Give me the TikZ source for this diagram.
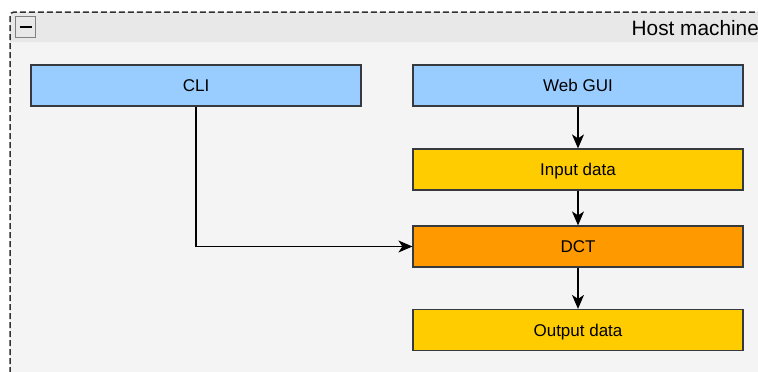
\documentclass[tikz,border=0pt]{standalone}
\usepackage{fontspec}
\setmainfont{Liberation Sans}
\usetikzlibrary{arrows.meta}

\definecolor{headgray}{HTML}{E8E8E8}
\definecolor{bodygray}{HTML}{F4F4F4}
\definecolor{edgegray}{HTML}{36393D}
\definecolor{uiblue}{HTML}{99CCFF}
\definecolor{datayellow}{HTML}{FFCC00}
\definecolor{coreorange}{HTML}{FF9900}

\begin{document}
\begin{tikzpicture}[x=1pt,y=-1pt]

    \tikzset{
      block/.style={
        draw=edgegray,
        line width=1.2pt,
        minimum width=330pt,
        minimum height=41pt,
        inner sep=0pt,
        text height=12pt,
        text depth=0pt,
        font=\fontsize{17}{20}\selectfont,
      },
      flow/.style={
        draw=black,
        line width=1.2pt,
        -{Stealth[length=14pt,width=12pt,inset=4pt]},
      },
    }
    \useasboundingbox (0,0) rectangle (758,372);
    \clip (0,0) rectangle (758,372);

	% container
	\fill[bodygray] (10,42) rectangle (790,400);
	\fill[headgray] (10,42) [rounded corners=4pt] -- (10,12) -- (790,12) [sharp corners] -- (790,42) -- cycle;
	\draw[color=black!80, line width=1.5pt, dash pattern=on 6pt off 3pt, rounded corners=4pt] (10,400) -- (10,12) -- (790,12);
	\node[draw=gray, fill=headgray, line width=1pt, minimum width=20pt, minimum height=21pt, inner sep=0pt] (fold) at (25,27) {};
	\draw[color=black, line width=2pt] ([xshift=5pt]fold.west) -- ([xshift=-4pt]fold.east);
	\node[anchor=base west, inner sep=0pt, font=\fontsize{20.8}{24}\selectfont] (title) at (631.5,35) {Host machine};

	% blocks
	\node[block, fill=uiblue] (cli) at (196,85.5) {CLI};
	\node[block, fill=uiblue] (webgui) at (578,85.5) {Web GUI};
	\node[block, fill=datayellow] (input) at (578,169.5) {Input data};
	\node[block, fill=coreorange] (dct) at (578,246.5) {DCT};
	\node[block, fill=datayellow] (output) at (578,330) {Output data};

	% connectors
	\draw[flow] (webgui) -- (input);
	\draw[flow] (input) -- (dct);
	\draw[flow] (dct) -- (output);
	\draw[flow] (cli) |- (dct);

\end{tikzpicture}
\end{document}
